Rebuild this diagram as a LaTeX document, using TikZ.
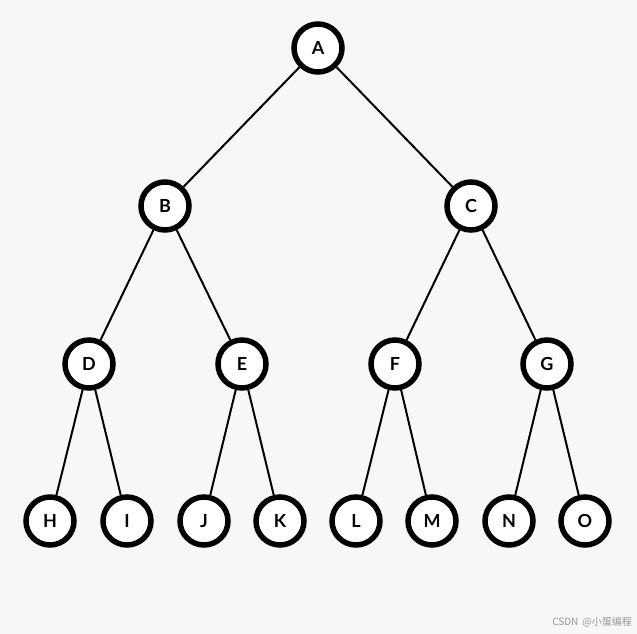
\documentclass[tikz,border=0pt]{standalone}
\usepackage{fontspec}
\setsansfont{Lato}
\newfontfamily\cjkfont{Noto Sans CJK SC}
\usetikzlibrary{positioning}
\definecolor{colFond}{RGB}{247, 247, 247}
\definecolor{colMarque}{RGB}{150, 150, 150}

\begin{document}
\begin{tikzpicture}[
  x=1pt, y=-1pt,
  noeud/.style={circle, draw=black, line width=5.5pt, fill=white,
                minimum size=48pt, inner sep=0pt,
                font=\sffamily\bfseries\fontsize{18}{18}\selectfont},
  arete/.style={line width=2pt, black}
]

% ---------- Fond ----------
\fill[colFond] (0,0) rectangle (637,634);
\useasboundingbox (0,0) rectangle (637,634);

% ---------- Racine et niveau 1 ----------
\node[noeud] (A) at (318,48)  {A};
\node[noeud] (B) at (165,206) {B};
\node[noeud] (C) at (471,206) {C};

% ---------- Niveau 2 ----------
\node[noeud] (D) at (89,364)  {D};
\node[noeud] (E) at (242,364) {E};
\node[noeud] (F) at (395,364) {F};
\node[noeud] (G) at (547,364) {G};

% ---------- Feuilles ----------
\node[noeud] (H) at (50,521)  {H};
\node[noeud] (I) at (127,521) {I};
\node[noeud] (J) at (204,521) {J};
\node[noeud] (K) at (280,521) {K};
\node[noeud] (L) at (356,521) {L};
\node[noeud] (M) at (432,521) {M};
\node[noeud] (N) at (509,521) {N};
\node[noeud] (O) at (585,521) {O};

% ---------- Arêtes ----------
\foreach \p/\f in {A/B, A/C, B/D, B/E, C/F, C/G,
                   D/H, D/I, E/J, E/K, F/L, F/M, G/N, G/O}
  \draw[arete] (\p) -- (\f);

% ---------- Filigrane ----------
\node[anchor=base east, colMarque, inner sep=0pt,
      font=\cjkfont\fontsize{10}{10}\selectfont] (marque) at (632,625)
  {CSDN \,@小蛋编程};

\end{tikzpicture}
\end{document}
